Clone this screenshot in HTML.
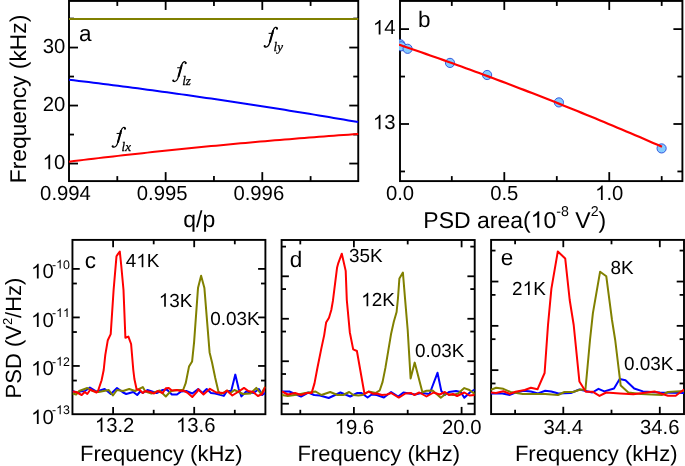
<!DOCTYPE html>
<html><head><meta charset="utf-8"><style>
html,body{margin:0;padding:0;background:#fff;width:685px;height:466px;overflow:hidden}
svg{display:block;will-change:transform}
text{font-family:"Liberation Sans",sans-serif;text-rendering:geometricPrecision;font-kerning:none;fill:#000}
tspan.h{fill-opacity:0}
text.si{font-family:"Liberation Serif",serif;font-style:italic;stroke:#000;stroke-width:0.3px}
</style></head><body>
<svg width="685" height="466" viewBox="0 0 685 466">
<rect width="685" height="466" fill="#fff"/>
<rect x="69.00" y="0.95" width="289.25" height="180.15" fill="none" stroke="#000" stroke-width="1.9"/>
<line x1="165.65" y1="181.10" x2="165.65" y2="172.10" stroke="#000" stroke-width="1.8"/>
<line x1="165.65" y1="0.95" x2="165.65" y2="9.95" stroke="#000" stroke-width="1.8"/>
<line x1="262.30" y1="181.10" x2="262.30" y2="172.10" stroke="#000" stroke-width="1.8"/>
<line x1="262.30" y1="0.95" x2="262.30" y2="9.95" stroke="#000" stroke-width="1.8"/>
<line x1="117.30" y1="181.10" x2="117.30" y2="176.10" stroke="#000" stroke-width="1.8"/>
<line x1="117.30" y1="0.95" x2="117.30" y2="5.95" stroke="#000" stroke-width="1.8"/>
<line x1="213.95" y1="181.10" x2="213.95" y2="176.10" stroke="#000" stroke-width="1.8"/>
<line x1="213.95" y1="0.95" x2="213.95" y2="5.95" stroke="#000" stroke-width="1.8"/>
<line x1="310.60" y1="181.10" x2="310.60" y2="176.10" stroke="#000" stroke-width="1.8"/>
<line x1="310.60" y1="0.95" x2="310.60" y2="5.95" stroke="#000" stroke-width="1.8"/>
<line x1="69.00" y1="163.55" x2="78.00" y2="163.55" stroke="#000" stroke-width="1.8"/>
<line x1="358.25" y1="163.55" x2="349.25" y2="163.55" stroke="#000" stroke-width="1.8"/>
<line x1="69.00" y1="105.55" x2="78.00" y2="105.55" stroke="#000" stroke-width="1.8"/>
<line x1="358.25" y1="105.55" x2="349.25" y2="105.55" stroke="#000" stroke-width="1.8"/>
<line x1="69.00" y1="47.55" x2="78.00" y2="47.55" stroke="#000" stroke-width="1.8"/>
<line x1="358.25" y1="47.55" x2="349.25" y2="47.55" stroke="#000" stroke-width="1.8"/>
<line x1="69.00" y1="134.55" x2="74.00" y2="134.55" stroke="#000" stroke-width="1.8"/>
<line x1="358.25" y1="134.55" x2="353.25" y2="134.55" stroke="#000" stroke-width="1.8"/>
<line x1="69.00" y1="76.55" x2="74.00" y2="76.55" stroke="#000" stroke-width="1.8"/>
<line x1="358.25" y1="76.55" x2="353.25" y2="76.55" stroke="#000" stroke-width="1.8"/>
<line x1="69.00" y1="18.55" x2="74.00" y2="18.55" stroke="#000" stroke-width="1.8"/>
<line x1="358.25" y1="18.55" x2="353.25" y2="18.55" stroke="#000" stroke-width="1.8"/>
<polyline points="69.00,18.90 358.25,18.90" fill="none" stroke="#808000" stroke-width="2.0" stroke-linejoin="round" stroke-linecap="butt"/>
<polyline points="69.00,79.71 73.90,80.30 78.81,80.89 83.71,81.49 88.61,82.09 93.51,82.70 98.42,83.31 103.32,83.93 108.22,84.55 113.12,85.17 118.03,85.80 122.93,86.43 127.83,87.07 132.73,87.71 137.64,88.36 142.54,89.01 147.44,89.67 152.34,90.33 157.25,90.99 162.15,91.66 167.05,92.34 171.95,93.02 176.86,93.70 181.76,94.38 186.66,95.08 191.56,95.77 196.47,96.47 201.37,97.18 206.27,97.89 211.17,98.60 216.08,99.32 220.98,100.04 225.88,100.77 230.78,101.50 235.69,102.24 240.59,102.98 245.49,103.73 250.39,104.48 255.30,105.23 260.20,105.99 265.10,106.75 270.00,107.52 274.91,108.29 279.81,109.07 284.71,109.85 289.61,110.64 294.52,111.43 299.42,112.22 304.32,113.02 309.22,113.82 314.13,114.63 319.03,115.44 323.93,116.26 328.83,117.08 333.74,117.91 338.64,118.74 343.54,119.57 348.44,120.41 353.35,121.26 358.25,122.11" fill="none" stroke="#0000ff" stroke-width="2.0" stroke-linejoin="round" stroke-linecap="butt"/>
<polyline points="69.00,161.65 73.90,161.05 78.81,160.46 83.71,159.87 88.61,159.29 93.51,158.71 98.42,158.13 103.32,157.56 108.22,157.00 113.12,156.43 118.03,155.88 122.93,155.32 127.83,154.78 132.73,154.23 137.64,153.69 142.54,153.16 147.44,152.63 152.34,152.10 157.25,151.58 162.15,151.06 167.05,150.55 171.95,150.04 176.86,149.53 181.76,149.03 186.66,148.54 191.56,148.04 196.47,147.56 201.37,147.07 206.27,146.60 211.17,146.12 216.08,145.65 220.98,145.19 225.88,144.73 230.78,144.27 235.69,143.82 240.59,143.37 245.49,142.93 250.39,142.49 255.30,142.05 260.20,141.62 265.10,141.20 270.00,140.78 274.91,140.36 279.81,139.95 284.71,139.54 289.61,139.13 294.52,138.73 299.42,138.34 304.32,137.95 309.22,137.56 314.13,137.18 319.03,136.80 323.93,136.43 328.83,136.06 333.74,135.69 338.64,135.33 343.54,134.98 348.44,134.63 353.35,134.28 358.25,133.94" fill="none" stroke="#ff0000" stroke-width="2.0" stroke-linejoin="round" stroke-linecap="butt"/>
<text x="65.20" y="53.15" font-size="20.3" text-anchor="end">30</text>
<text x="65.20" y="111.15" font-size="20.3" text-anchor="end">20</text>
<text x="65.20" y="169.15" font-size="20.3" text-anchor="end"><tspan class="h">1</tspan>0</text>
<text x="65.50" y="200.00" font-size="20.3" text-anchor="middle">0.994</text>
<text x="162.15" y="200.00" font-size="20.3" text-anchor="middle">0.995</text>
<text x="258.80" y="200.00" font-size="20.3" text-anchor="middle">0.996</text>
<text x="199.30" y="226.60" font-size="23" text-anchor="middle">q/p</text>
<text transform="translate(26.3,99) rotate(-90)" font-size="22.8" text-anchor="middle">Frequency (kHz)</text>
<text x="79.00" y="41.00" font-size="22.5">a</text>
<g transform="translate(0.00,0.00)">
<path d="M277.3,28.9 C277.5,27.6 276.3,27.1 275.3,27.4 C274.1,27.8 273.5,29.2 273.1,30.6 L269.9,42.0 C269.2,44.6 268.2,46.9 266.0,47.1 C265.1,47.2 264.4,46.7 264.4,46.1" stroke="#000" stroke-width="1.25" fill="none"/>
<path d="M273.0,31.0 L270.0,41.8" stroke="#000" stroke-width="2.0" fill="none" stroke-linecap="round"/>
<circle cx="277.0" cy="28.7" r="1.05"/><circle cx="264.7" cy="46.1" r="1.05"/>
<line x1="268.6" y1="33.35" x2="273.4" y2="33.35" stroke="#000" stroke-width="1.0"/>
<text class="si" x="273.60" y="50.6" font-size="13">ly</text>
</g>
<g transform="translate(-91.40,34.40)">
<path d="M277.3,28.9 C277.5,27.6 276.3,27.1 275.3,27.4 C274.1,27.8 273.5,29.2 273.1,30.6 L269.9,42.0 C269.2,44.6 268.2,46.9 266.0,47.1 C265.1,47.2 264.4,46.7 264.4,46.1" stroke="#000" stroke-width="1.25" fill="none"/>
<path d="M273.0,31.0 L270.0,41.8" stroke="#000" stroke-width="2.0" fill="none" stroke-linecap="round"/>
<circle cx="277.0" cy="28.7" r="1.05"/><circle cx="264.7" cy="46.1" r="1.05"/>
<line x1="268.6" y1="33.35" x2="273.4" y2="33.35" stroke="#000" stroke-width="1.0"/>
<text class="si" x="273.60" y="50.6" font-size="13">lz</text>
</g>
<g transform="translate(-152.00,100.10)">
<path d="M277.3,28.9 C277.5,27.6 276.3,27.1 275.3,27.4 C274.1,27.8 273.5,29.2 273.1,30.6 L269.9,42.0 C269.2,44.6 268.2,46.9 266.0,47.1 C265.1,47.2 264.4,46.7 264.4,46.1" stroke="#000" stroke-width="1.25" fill="none"/>
<path d="M273.0,31.0 L270.0,41.8" stroke="#000" stroke-width="2.0" fill="none" stroke-linecap="round"/>
<circle cx="277.0" cy="28.7" r="1.05"/><circle cx="264.7" cy="46.1" r="1.05"/>
<line x1="268.6" y1="33.35" x2="273.4" y2="33.35" stroke="#000" stroke-width="1.0"/>
<text class="si" x="273.60" y="50.6" font-size="13">lx</text>
</g>
<rect x="400.00" y="0.95" width="282.40" height="180.15" fill="none" stroke="#000" stroke-width="1.9"/>
<line x1="504.30" y1="181.10" x2="504.30" y2="172.10" stroke="#000" stroke-width="1.8"/>
<line x1="504.30" y1="0.95" x2="504.30" y2="9.95" stroke="#000" stroke-width="1.8"/>
<line x1="609.25" y1="181.10" x2="609.25" y2="172.10" stroke="#000" stroke-width="1.8"/>
<line x1="609.25" y1="0.95" x2="609.25" y2="9.95" stroke="#000" stroke-width="1.8"/>
<line x1="451.80" y1="181.10" x2="451.80" y2="176.10" stroke="#000" stroke-width="1.8"/>
<line x1="451.80" y1="0.95" x2="451.80" y2="5.95" stroke="#000" stroke-width="1.8"/>
<line x1="556.80" y1="181.10" x2="556.80" y2="176.10" stroke="#000" stroke-width="1.8"/>
<line x1="556.80" y1="0.95" x2="556.80" y2="5.95" stroke="#000" stroke-width="1.8"/>
<line x1="661.70" y1="181.10" x2="661.70" y2="176.10" stroke="#000" stroke-width="1.8"/>
<line x1="661.70" y1="0.95" x2="661.70" y2="5.95" stroke="#000" stroke-width="1.8"/>
<line x1="400.00" y1="29.10" x2="409.00" y2="29.10" stroke="#000" stroke-width="1.8"/>
<line x1="682.40" y1="29.10" x2="673.40" y2="29.10" stroke="#000" stroke-width="1.8"/>
<line x1="400.00" y1="124.00" x2="409.00" y2="124.00" stroke="#000" stroke-width="1.8"/>
<line x1="682.40" y1="124.00" x2="673.40" y2="124.00" stroke="#000" stroke-width="1.8"/>
<line x1="400.00" y1="76.55" x2="405.00" y2="76.55" stroke="#000" stroke-width="1.8"/>
<line x1="682.40" y1="76.55" x2="677.40" y2="76.55" stroke="#000" stroke-width="1.8"/>
<line x1="400.00" y1="171.45" x2="405.00" y2="171.45" stroke="#000" stroke-width="1.8"/>
<line x1="682.40" y1="171.45" x2="677.40" y2="171.45" stroke="#000" stroke-width="1.8"/>
<clipPath id="cb"><rect x="399.0" y="0" width="283.4" height="181.1"/></clipPath>
<g clip-path="url(#cb)">
<circle cx="400.3" cy="44.3" r="4.6" fill="#84ccff" stroke="#2a4ad8" stroke-width="0.9"/>
<circle cx="401.2" cy="46.3" r="4.6" fill="#84ccff" stroke="#2a4ad8" stroke-width="0.9"/>
<circle cx="407.6" cy="48.8" r="4.6" fill="#84ccff" stroke="#2a4ad8" stroke-width="0.9"/>
<circle cx="450" cy="62.9" r="4.6" fill="#84ccff" stroke="#2a4ad8" stroke-width="0.9"/>
<circle cx="487.1" cy="75" r="4.6" fill="#84ccff" stroke="#2a4ad8" stroke-width="0.9"/>
<circle cx="558.9" cy="102.4" r="4.6" fill="#84ccff" stroke="#2a4ad8" stroke-width="0.9"/>
<circle cx="661.6" cy="148.4" r="4.6" fill="#84ccff" stroke="#2a4ad8" stroke-width="0.9"/>
<polyline points="399.00,44.66 403.46,46.18 407.92,47.70 412.37,49.23 416.83,50.76 421.29,52.31 425.75,53.86 430.20,55.42 434.66,56.98 439.12,58.56 443.58,60.14 448.03,61.73 452.49,63.32 456.95,64.93 461.41,66.54 465.86,68.16 470.32,69.78 474.78,71.42 479.24,73.06 483.69,74.71 488.15,76.36 492.61,78.03 497.07,79.70 501.53,81.38 505.98,83.06 510.44,84.75 514.90,86.46 519.36,88.16 523.81,89.88 528.27,91.60 532.73,93.33 537.19,95.07 541.64,96.82 546.10,98.57 550.56,100.33 555.02,102.10 559.47,103.88 563.93,105.66 568.39,107.45 572.85,109.25 577.31,111.05 581.76,112.86 586.22,114.69 590.68,116.51 595.14,118.35 599.59,120.19 604.05,122.04 608.51,123.90 612.97,125.76 617.42,127.64 621.88,129.52 626.34,131.41 630.80,133.30 635.25,135.20 639.71,137.11 644.17,139.03 648.63,140.96 653.08,142.89 657.54,144.83 662.00,146.78" fill="none" stroke="#ff0000" stroke-width="2.2" stroke-linejoin="round" stroke-linecap="butt"/>
</g>
<text x="395.50" y="34.45" font-size="20.3" text-anchor="end"><tspan class="h">1</tspan>4</text>
<text x="395.50" y="129.35" font-size="20.3" text-anchor="end"><tspan class="h">1</tspan>3</text>
<text x="400.00" y="200.00" font-size="20.3" text-anchor="middle">0.0</text>
<text x="504.30" y="200.00" font-size="20.3" text-anchor="middle">0.5</text>
<text x="609.25" y="200.00" font-size="20.3" text-anchor="middle"><tspan class="h">1</tspan>.0</text>
<text x="423.3" y="227.6" font-size="23">PSD area(<tspan class="h">1</tspan>0<tspan font-size="14.2" dy="-11.3">-8</tspan><tspan dy="11.3"> V</tspan><tspan font-size="14.2" dy="-11.3">2</tspan><tspan dy="11.3">)</tspan></text>
<text x="418.00" y="27.20" font-size="22.5">b</text>
<rect x="72.45" y="239.90" width="192.95" height="174.30" fill="none" stroke="#000" stroke-width="1.9"/>
<line x1="113.10" y1="414.20" x2="113.10" y2="406.90" stroke="#000" stroke-width="1.8"/>
<line x1="113.10" y1="239.90" x2="113.10" y2="247.20" stroke="#000" stroke-width="1.8"/>
<line x1="194.20" y1="414.20" x2="194.20" y2="406.90" stroke="#000" stroke-width="1.8"/>
<line x1="194.20" y1="239.90" x2="194.20" y2="247.20" stroke="#000" stroke-width="1.8"/>
<line x1="153.70" y1="414.20" x2="153.70" y2="409.80" stroke="#000" stroke-width="1.8"/>
<line x1="153.70" y1="239.90" x2="153.70" y2="244.30" stroke="#000" stroke-width="1.8"/>
<line x1="234.80" y1="414.20" x2="234.80" y2="409.80" stroke="#000" stroke-width="1.8"/>
<line x1="234.80" y1="239.90" x2="234.80" y2="244.30" stroke="#000" stroke-width="1.8"/>
<line x1="72.45" y1="268.90" x2="79.75" y2="268.90" stroke="#000" stroke-width="1.8"/>
<line x1="265.40" y1="268.90" x2="258.10" y2="268.90" stroke="#000" stroke-width="1.8"/>
<line x1="72.45" y1="317.42" x2="79.75" y2="317.42" stroke="#000" stroke-width="1.8"/>
<line x1="265.40" y1="317.42" x2="258.10" y2="317.42" stroke="#000" stroke-width="1.8"/>
<line x1="72.45" y1="365.95" x2="79.75" y2="365.95" stroke="#000" stroke-width="1.8"/>
<line x1="265.40" y1="365.95" x2="258.10" y2="365.95" stroke="#000" stroke-width="1.8"/>
<line x1="72.45" y1="283.51" x2="76.85" y2="283.51" stroke="#000" stroke-width="1.8"/>
<line x1="265.40" y1="283.51" x2="261.00" y2="283.51" stroke="#000" stroke-width="1.8"/>
<line x1="72.45" y1="332.03" x2="76.85" y2="332.03" stroke="#000" stroke-width="1.8"/>
<line x1="265.40" y1="332.03" x2="261.00" y2="332.03" stroke="#000" stroke-width="1.8"/>
<line x1="72.45" y1="380.56" x2="76.85" y2="380.56" stroke="#000" stroke-width="1.8"/>
<line x1="265.40" y1="380.56" x2="261.00" y2="380.56" stroke="#000" stroke-width="1.8"/>
<clipPath id="cc"><rect x="72.45" y="239.9" width="192.95" height="174.29999999999998"/></clipPath>
<g clip-path="url(#cc)">
<polyline points="72.50,391.00 78.10,393.00 81.20,391.00 84.30,391.50 89.90,387.50 92.40,389.00 96.50,391.50 104.70,389.00 110.80,394.00 117.00,388.00 123.10,392.50 126.20,394.00 133.30,392.00 137.20,395.00 140.20,391.50 142.80,393.00 147.40,390.00 156.60,393.00 162.70,390.00 166.80,389.50 171.90,394.50 177.00,394.50 181.10,391.50 186.20,391.00 192.30,393.50 198.20,389.00 202.50,393.00 206.70,389.00 211.00,393.00 215.20,393.50 223.80,395.90 227.00,391.00 231.20,391.00 235.30,374.60 238.70,389.00 241.40,396.40 246.20,391.50 253.60,393.00 258.90,389.00 262.10,395.00 265.30,393.00" fill="none" stroke="#0000ff" stroke-width="2.0" stroke-linejoin="round" stroke-linecap="butt"/>
<polyline points="72.50,393.50 76.10,394.50 79.20,391.00 87.30,388.00 92.40,391.00 98.60,392.00 103.70,391.00 108.80,390.00 112.90,395.50 117.00,390.00 123.10,391.00 129.20,389.00 135.10,391.00 142.80,387.10 145.30,391.50 151.50,393.50 159.60,390.50 165.80,396.50 170.90,391.00 178.00,390.00 183.10,390.00 185.70,383.20 189.00,366.60 192.10,361.40 194.10,342.10 198.00,288.10 201.10,275.80 204.40,288.10 209.60,352.40 212.10,362.70 215.20,377.80 218.40,391.60 221.10,394.00 227.00,390.50 230.20,393.20 234.40,390.00 238.70,392.00 243.00,394.00 250.40,393.50 256.30,387.90 261.10,394.00 265.30,386.50" fill="none" stroke="#808000" stroke-width="2.0" stroke-linejoin="round" stroke-linecap="butt"/>
<polyline points="72.50,391.50 76.10,392.00 81.70,395.00 84.80,392.00 87.30,394.00 90.40,389.50 96.50,392.50 98.00,391.00 101.60,380.20 103.70,370.00 105.30,354.80 107.80,340.20 110.70,334.10 113.60,290.00 116.50,256.20 117.70,254.40 119.80,251.50 121.20,265.00 123.50,290.00 125.40,337.80 128.40,336.60 131.10,344.00 133.30,370.00 134.40,379.00 136.60,389.30 139.70,390.00 142.80,392.90 145.30,391.00 150.40,392.00 154.00,393.50 157.60,391.00 162.70,393.00 165.80,388.30 168.80,388.00 171.90,390.50 177.00,390.00 180.10,391.00 183.10,390.50 187.20,392.50 192.30,397.00 197.40,391.30 198.20,389.30 203.50,394.50 209.90,388.80 216.30,392.50 223.80,393.00 227.00,390.50 232.30,395.50 238.70,391.50 244.00,387.90 248.30,391.00 253.10,392.00 257.90,396.00 262.10,394.00 265.30,387.00" fill="none" stroke="#ff0000" stroke-width="2.0" stroke-linejoin="round" stroke-linecap="butt"/>
</g>
<text x="114.60" y="432.00" font-size="20.3" text-anchor="middle"><tspan class="h">1</tspan>3.2</text>
<text x="195.70" y="432.00" font-size="20.3" text-anchor="middle"><tspan class="h">1</tspan>3.6</text>
<text x="31.10" y="278.40" font-size="20.3"><tspan class="h">1</tspan>0</text>
<text x="69.90" y="268.60" font-size="12.4" text-anchor="end">-<tspan class="h">1</tspan>0</text>
<text x="31.10" y="326.92" font-size="20.3"><tspan class="h">1</tspan>0</text>
<text x="69.90" y="317.12" font-size="12.4" text-anchor="end">-<tspan class="h">1</tspan><tspan class="h">1</tspan></text>
<text x="31.10" y="375.45" font-size="20.3"><tspan class="h">1</tspan>0</text>
<text x="69.90" y="365.65" font-size="12.4" text-anchor="end">-<tspan class="h">1</tspan>2</text>
<text x="31.10" y="423.97" font-size="20.3"><tspan class="h">1</tspan>0</text>
<text x="69.90" y="414.17" font-size="12.4" text-anchor="end">-<tspan class="h">1</tspan>3</text>
<text x="80.00" y="461.30" font-size="22">Frequency (kHz)</text>
<text transform="translate(20.5,338) rotate(-90)" font-size="22" text-anchor="middle">PSD (V<tspan font-size="13" dy="-9">2</tspan><tspan dy="9">/Hz)</tspan></text>
<text x="84.80" y="268.20" font-size="22.5">c</text>
<text x="125.80" y="267.20" font-size="18.9">4<tspan class="h">1</tspan>K</text>
<text x="158.80" y="306.70" font-size="18.9"><tspan class="h">1</tspan>3K</text>
<text x="210.20" y="324.80" font-size="18.9">0.03K</text>
<rect x="281.60" y="240.00" width="193.10" height="174.20" fill="none" stroke="#000" stroke-width="1.9"/>
<line x1="353.90" y1="414.20" x2="353.90" y2="406.90" stroke="#000" stroke-width="1.8"/>
<line x1="353.90" y1="240.00" x2="353.90" y2="247.30" stroke="#000" stroke-width="1.8"/>
<line x1="461.60" y1="414.20" x2="461.60" y2="406.90" stroke="#000" stroke-width="1.8"/>
<line x1="461.60" y1="240.00" x2="461.60" y2="247.30" stroke="#000" stroke-width="1.8"/>
<line x1="300.30" y1="414.20" x2="300.30" y2="409.80" stroke="#000" stroke-width="1.8"/>
<line x1="300.30" y1="240.00" x2="300.30" y2="244.40" stroke="#000" stroke-width="1.8"/>
<line x1="407.70" y1="414.20" x2="407.70" y2="409.80" stroke="#000" stroke-width="1.8"/>
<line x1="407.70" y1="240.00" x2="407.70" y2="244.40" stroke="#000" stroke-width="1.8"/>
<line x1="281.60" y1="276.30" x2="288.90" y2="276.30" stroke="#000" stroke-width="1.8"/>
<line x1="474.70" y1="276.30" x2="467.40" y2="276.30" stroke="#000" stroke-width="1.8"/>
<line x1="281.60" y1="318.77" x2="288.90" y2="318.77" stroke="#000" stroke-width="1.8"/>
<line x1="474.70" y1="318.77" x2="467.40" y2="318.77" stroke="#000" stroke-width="1.8"/>
<line x1="281.60" y1="361.24" x2="288.90" y2="361.24" stroke="#000" stroke-width="1.8"/>
<line x1="474.70" y1="361.24" x2="467.40" y2="361.24" stroke="#000" stroke-width="1.8"/>
<line x1="281.60" y1="403.71" x2="288.90" y2="403.71" stroke="#000" stroke-width="1.8"/>
<line x1="474.70" y1="403.71" x2="467.40" y2="403.71" stroke="#000" stroke-width="1.8"/>
<line x1="281.60" y1="246.61" x2="286.00" y2="246.61" stroke="#000" stroke-width="1.8"/>
<line x1="474.70" y1="246.61" x2="470.30" y2="246.61" stroke="#000" stroke-width="1.8"/>
<line x1="281.60" y1="289.08" x2="286.00" y2="289.08" stroke="#000" stroke-width="1.8"/>
<line x1="474.70" y1="289.08" x2="470.30" y2="289.08" stroke="#000" stroke-width="1.8"/>
<line x1="281.60" y1="331.55" x2="286.00" y2="331.55" stroke="#000" stroke-width="1.8"/>
<line x1="474.70" y1="331.55" x2="470.30" y2="331.55" stroke="#000" stroke-width="1.8"/>
<line x1="281.60" y1="374.02" x2="286.00" y2="374.02" stroke="#000" stroke-width="1.8"/>
<line x1="474.70" y1="374.02" x2="470.30" y2="374.02" stroke="#000" stroke-width="1.8"/>
<clipPath id="cd"><rect x="281.6" y="240.0" width="193.09999999999997" height="174.2"/></clipPath>
<g clip-path="url(#cd)">
<polyline points="282.00,391.50 289.30,391.50 295.10,394.00 301.00,396.50 308.30,392.50 314.10,395.00 320.00,395.50 328.70,398.00 340.40,392.50 350.20,396.50 357.40,393.00 361.50,393.00 367.60,397.50 371.70,394.50 376.80,395.00 383.90,397.50 391.10,392.00 398.20,396.50 403.40,392.50 415.20,394.50 421.30,393.00 429.50,394.00 437.50,372.80 441.30,391.00 444.90,395.00 448.90,392.00 456.10,391.00 460.70,392.00 464.30,397.80 470.40,392.00 474.70,389.50" fill="none" stroke="#0000ff" stroke-width="2.0" stroke-linejoin="round" stroke-linecap="butt"/>
<polyline points="282.00,395.00 287.80,396.00 298.10,394.50 305.40,393.00 315.60,391.50 321.40,395.00 330.20,392.00 337.50,395.00 343.10,395.00 349.20,392.00 353.30,395.00 358.40,395.50 362.50,395.00 368.60,391.50 375.60,393.00 379.80,390.30 382.60,381.90 385.40,367.90 388.20,351.10 391.00,334.30 393.80,321.70 396.60,312.00 398.00,298.00 399.40,278.40 402.90,272.50 405.00,298.10 407.70,330.00 410.60,378.40 414.70,362.60 422.40,392.20 426.50,390.70 432.60,390.50 440.80,397.80 445.90,393.80 453.00,395.00 458.10,393.50 464.30,388.10 469.40,390.00 474.70,394.00" fill="none" stroke="#808000" stroke-width="2.0" stroke-linejoin="round" stroke-linecap="butt"/>
<polyline points="282.00,391.50 287.80,394.50 295.10,393.00 301.00,395.00 306.80,393.00 311.60,393.10 314.50,383.40 317.40,368.00 321.30,348.60 324.20,335.10 326.10,322.60 329.00,317.70 331.30,310.00 332.90,300.90 337.10,267.40 338.30,263.10 341.80,253.70 345.70,270.90 346.80,300.00 349.80,332.20 353.20,349.40 356.90,351.00 364.50,394.00 368.60,391.70 372.70,393.70 376.80,393.50 381.90,395.00 387.00,394.50 391.10,393.00 398.80,397.60 405.40,393.50 411.10,393.00 414.20,395.00 419.30,392.50 426.50,396.50 433.60,392.50 439.70,394.50 444.90,392.00 448.90,395.00 453.00,394.00 457.10,396.00 464.30,392.50 469.40,395.50 474.70,395.00" fill="none" stroke="#ff0000" stroke-width="2.0" stroke-linejoin="round" stroke-linecap="butt"/>
</g>
<text x="354.40" y="433.50" font-size="20.3" text-anchor="middle"><tspan class="h">1</tspan>9.6</text>
<text x="461.80" y="433.50" font-size="20.3" text-anchor="middle">20.0</text>
<text x="297.40" y="461.30" font-size="22">Frequency (kHz)</text>
<text x="289.70" y="266.80" font-size="22.5">d</text>
<text x="349.10" y="262.30" font-size="18.9">35K</text>
<text x="361.20" y="306.30" font-size="18.9"><tspan class="h">1</tspan>2K</text>
<text x="415.00" y="357.00" font-size="18.9">0.03K</text>
<rect x="491.10" y="239.90" width="192.90" height="174.20" fill="none" stroke="#000" stroke-width="1.9"/>
<line x1="563.30" y1="414.10" x2="563.30" y2="406.80" stroke="#000" stroke-width="1.8"/>
<line x1="563.30" y1="239.90" x2="563.30" y2="247.20" stroke="#000" stroke-width="1.8"/>
<line x1="659.80" y1="414.10" x2="659.80" y2="406.80" stroke="#000" stroke-width="1.8"/>
<line x1="659.80" y1="239.90" x2="659.80" y2="247.20" stroke="#000" stroke-width="1.8"/>
<line x1="515.10" y1="414.10" x2="515.10" y2="409.70" stroke="#000" stroke-width="1.8"/>
<line x1="515.10" y1="239.90" x2="515.10" y2="244.30" stroke="#000" stroke-width="1.8"/>
<line x1="611.50" y1="414.10" x2="611.50" y2="409.70" stroke="#000" stroke-width="1.8"/>
<line x1="611.50" y1="239.90" x2="611.50" y2="244.30" stroke="#000" stroke-width="1.8"/>
<line x1="491.10" y1="281.55" x2="498.40" y2="281.55" stroke="#000" stroke-width="1.8"/>
<line x1="684.00" y1="281.55" x2="676.70" y2="281.55" stroke="#000" stroke-width="1.8"/>
<line x1="491.10" y1="325.85" x2="498.40" y2="325.85" stroke="#000" stroke-width="1.8"/>
<line x1="684.00" y1="325.85" x2="676.70" y2="325.85" stroke="#000" stroke-width="1.8"/>
<line x1="491.10" y1="370.15" x2="498.40" y2="370.15" stroke="#000" stroke-width="1.8"/>
<line x1="684.00" y1="370.15" x2="676.70" y2="370.15" stroke="#000" stroke-width="1.8"/>
<line x1="491.10" y1="250.58" x2="495.50" y2="250.58" stroke="#000" stroke-width="1.8"/>
<line x1="684.00" y1="250.58" x2="679.60" y2="250.58" stroke="#000" stroke-width="1.8"/>
<line x1="491.10" y1="294.88" x2="495.50" y2="294.88" stroke="#000" stroke-width="1.8"/>
<line x1="684.00" y1="294.88" x2="679.60" y2="294.88" stroke="#000" stroke-width="1.8"/>
<line x1="491.10" y1="339.18" x2="495.50" y2="339.18" stroke="#000" stroke-width="1.8"/>
<line x1="684.00" y1="339.18" x2="679.60" y2="339.18" stroke="#000" stroke-width="1.8"/>
<line x1="491.10" y1="383.48" x2="495.50" y2="383.48" stroke="#000" stroke-width="1.8"/>
<line x1="684.00" y1="383.48" x2="679.60" y2="383.48" stroke="#000" stroke-width="1.8"/>
<clipPath id="ce"><rect x="491.1" y="239.9" width="192.89999999999998" height="174.20000000000002"/></clipPath>
<g clip-path="url(#ce)">
<polyline points="491.00,393.50 502.30,393.40 509.90,394.90 515.50,392.50 523.70,390.80 530.90,391.50 538.00,393.40 545.20,390.80 551.30,391.50 558.50,393.50 570.80,393.00 579.40,389.50 592.30,392.50 598.50,388.80 604.30,391.40 614.00,388.50 619.70,378.90 625.50,380.20 634.20,388.50 642.90,391.40 660.00,392.50 684.00,393.00" fill="none" stroke="#0000ff" stroke-width="2.0" stroke-linejoin="round" stroke-linecap="butt"/>
<polyline points="491.00,389.80 496.10,387.80 503.30,388.80 510.40,391.90 522.70,393.90 545.20,393.90 558.00,395.00 564.40,392.00 573.00,392.00 580.50,389.50 585.40,390.00 590.00,340.00 592.90,313.20 600.10,271.70 606.30,276.30 612.00,320.00 615.20,340.00 620.70,385.60 628.40,392.40 641.00,394.00 662.20,394.90 668.00,392.00 684.00,391.00" fill="none" stroke="#808000" stroke-width="2.0" stroke-linejoin="round" stroke-linecap="butt"/>
<polyline points="491.00,392.40 496.10,393.00 503.30,391.30 509.90,393.90 515.50,391.80 524.70,390.00 530.90,387.80 537.50,389.30 544.60,373.00 548.00,325.00 551.40,288.70 557.80,251.50 565.20,258.40 569.70,300.00 573.70,325.00 579.40,381.50 585.80,391.80 592.50,391.70 599.50,395.90 606.20,392.50 620.00,393.50 633.30,394.30 654.50,391.50 668.00,395.70 675.70,395.70 684.00,389.50" fill="none" stroke="#ff0000" stroke-width="2.0" stroke-linejoin="round" stroke-linecap="butt"/>
</g>
<text x="563.30" y="433.50" font-size="20.3" text-anchor="middle">34.4</text>
<text x="659.80" y="433.50" font-size="20.3" text-anchor="middle">34.6</text>
<text x="514.90" y="461.30" font-size="22">Frequency (kHz)</text>
<text x="500.70" y="265.20" font-size="22.5">e</text>
<text x="512.10" y="294.90" font-size="18.9">2<tspan class="h">1</tspan>K</text>
<text x="610.40" y="274.00" font-size="18.9">8K</text>
<text x="623.90" y="370.40" font-size="18.9">0.03K</text>
<defs><path id="one" d="M763,0 L583,0 L583,1147 C540,1106 470,1058 400,1017 C330,976 268,946 223,929 L223,1103 C324,1150 412,1206 487,1271 C562,1336 616,1401 649,1466 L763,1466 Z"/></defs>
<g fill="#000"><use href="#one" transform="translate(42.62,169.15) scale(0.00991,-0.00991)"/><use href="#one" transform="translate(372.92,34.45) scale(0.00991,-0.00991)"/><use href="#one" transform="translate(372.92,129.35) scale(0.00991,-0.00991)"/><use href="#one" transform="translate(595.14,200.00) scale(0.00991,-0.00991)"/><use href="#one" transform="translate(530.67,227.60) scale(0.01123,-0.01123)"/><use href="#one" transform="translate(94.85,432.00) scale(0.00991,-0.00991)"/><use href="#one" transform="translate(175.95,432.00) scale(0.00991,-0.00991)"/><use href="#one" transform="translate(31.10,278.40) scale(0.00991,-0.00991)"/><use href="#one" transform="translate(56.11,268.60) scale(0.00605,-0.00605)"/><use href="#one" transform="translate(31.10,326.92) scale(0.00991,-0.00991)"/><use href="#one" transform="translate(56.11,317.12) scale(0.00605,-0.00605)"/><use href="#one" transform="translate(63.00,317.12) scale(0.00605,-0.00605)"/><use href="#one" transform="translate(31.10,375.45) scale(0.00991,-0.00991)"/><use href="#one" transform="translate(56.11,365.65) scale(0.00605,-0.00605)"/><use href="#one" transform="translate(31.10,423.97) scale(0.00991,-0.00991)"/><use href="#one" transform="translate(56.11,414.17) scale(0.00605,-0.00605)"/><use href="#one" transform="translate(136.31,267.20) scale(0.00923,-0.00923)"/><use href="#one" transform="translate(158.80,306.70) scale(0.00923,-0.00923)"/><use href="#one" transform="translate(334.65,433.50) scale(0.00991,-0.00991)"/><use href="#one" transform="translate(361.20,306.30) scale(0.00923,-0.00923)"/><use href="#one" transform="translate(522.61,294.90) scale(0.00923,-0.00923)"/></g>
</svg>
</body></html>
